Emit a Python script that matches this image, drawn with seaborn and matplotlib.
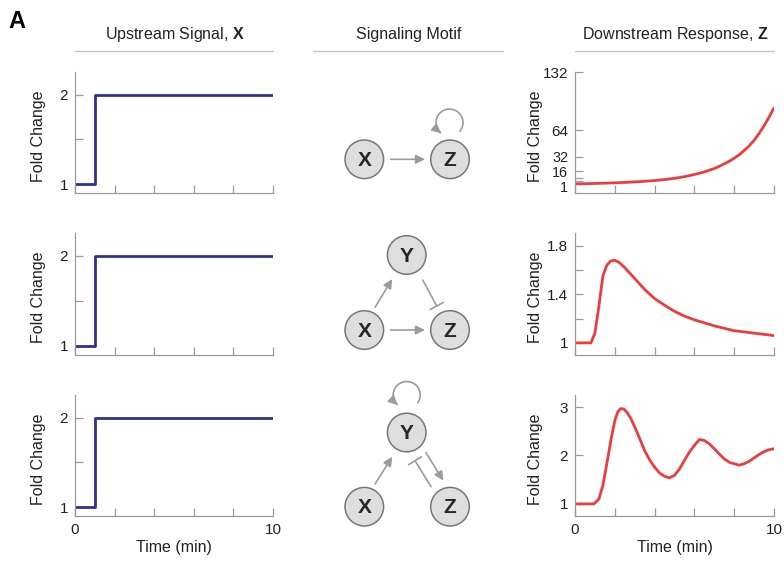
import numpy as np
import pandas as pd
import matplotlib
matplotlib.use("Agg")
import matplotlib.pyplot as plt
import matplotlib.patches as mpatches
import matplotlib.transforms as mtrans
from matplotlib.path import Path
import seaborn as sns

# ---------------- data ----------------
x_time = [0, 1, 1, 10]
x_signal = [1, 1, 2, 2]

t_exp = [0, 0.5, 1, 1.5, 2, 2.5, 3, 3.5, 4, 4.5, 5, 5.5, 6, 6.25, 6.5, 6.75, 7, 7.25, 7.5,
         7.75, 8, 8.25, 8.5, 8.75, 9, 9.25, 9.5, 9.75, 10]
z_exp = [1.0, 1.2, 1.45, 1.8, 2.2, 2.7, 3.3, 4.0, 4.9, 6.0, 7.5, 9.4, 12, 13.4, 15, 17, 19,
         21.5, 24.5, 27.5, 31, 35, 40, 45.5, 52, 60, 69, 79, 90]

t_iffl = [0, 0.5, 0.8, 1.0, 1.2, 1.4, 1.6, 1.8, 2.0, 2.2, 2.5, 3.0, 3.5, 4.0, 4.5, 5.0,
          5.5, 6.0, 6.5, 7.0, 7.5, 8.0, 8.5, 9.0, 9.5, 10]
z_iffl = [1.0, 1.0, 1.0, 1.08, 1.3, 1.55, 1.64, 1.675, 1.68, 1.665, 1.62, 1.53, 1.44, 1.365,
          1.31, 1.26, 1.22, 1.19, 1.165, 1.14, 1.12, 1.10, 1.09, 1.08, 1.07, 1.06]

t_osc = [0, 0.5, 0.95, 1.2, 1.4, 1.6, 1.8, 2.0, 2.15, 2.3, 2.45, 2.6, 2.8, 3.0, 3.25, 3.5,
         3.75, 4.0, 4.25, 4.5, 4.75, 5.0, 5.25, 5.5, 5.75, 6.0, 6.25, 6.5, 6.75, 7.0, 7.25,
         7.5, 7.75, 8.0, 8.25, 8.5, 8.75, 9.0, 9.25, 9.5, 9.75, 10]
z_osc = [1.0, 1.0, 1.0, 1.1, 1.38, 1.83, 2.31, 2.72, 2.9, 2.97, 2.96, 2.9, 2.77, 2.59, 2.35,
         2.1, 1.91, 1.76, 1.64, 1.57, 1.54, 1.59, 1.72, 1.9, 2.07, 2.21, 2.33, 2.31, 2.24,
         2.14, 2.03, 1.93, 1.86, 1.83, 1.80, 1.83, 1.88, 1.95, 2.02, 2.08, 2.12, 2.14]

x_ticks = [0, 2, 4, 6, 8, 10]
x_ticklabels = ["0", "", "", "", "", "10"]
left_yticks = [1, 1.5, 2]
left_yticklabels = ["1", "", "2"]
exp_yticks = [1, 4, 8, 16, 32, 64, 132]
exp_yticklabels = ["1", "", "", "16", "32", "64", "132"]
iffl_yticks = [1, 1.2, 1.4, 1.6, 1.8]
iffl_yticklabels = ["1", "", "1.4", "", "1.8"]
osc_yticks = [1, 2, 3]
osc_yticklabels = ["1", "2", "3"]

headers = ["Upstream Signal, $\\mathbf{X}$", "Signaling Motif", "Downstream Response, $\\mathbf{Z}$"]

# ---------------- style ----------------
sns.set_style("ticks")
plt.rcParams["font.family"] = ["Liberation Sans", "DejaVu Sans"]
plt.rcParams["mathtext.fontset"] = "custom"
plt.rcParams["mathtext.rm"] = "Liberation Sans"
plt.rcParams["mathtext.bf"] = "Liberation Sans:bold"

W, H = 784, 561
fig = plt.figure(figsize=(W / 100, H / 100), dpi=100)

SPINE = "#9a9a9a"
TXT = "#222222"
BLUE = "#2e3192"
RED = "#ee3b3b"


def add_ax(left, top, right, bottom):
    return fig.add_axes([left / W, 1 - bottom / H, (right - left) / W, (bottom - top) / H])


def style_ax(ax, yticks, yticklabels, ylim, bottom_row):
    sns.despine(ax=ax)
    for s in ["left", "bottom"]:
        ax.spines[s].set_color(SPINE)
        ax.spines[s].set_linewidth(0.9)
    ax.set_xlim(0, 10)
    ax.set_ylim(*ylim)
    ax.set_xticks(x_ticks)
    ax.set_yticks(yticks)
    ax.set_yticklabels(yticklabels)
    if bottom_row:
        ax.set_xticklabels(x_ticklabels)
        ax.set_xlabel("Time (min)", fontsize=11.5, color=TXT, labelpad=2)
    else:
        ax.set_xticklabels([""] * len(x_ticks))
        ax.set_xlabel("")
    ax.tick_params(direction="in", length=6, width=0.9, color=SPINE, labelsize=11,
                   labelcolor=TXT, pad=5)
    ax.set_ylabel("Fold Change", fontsize=11.5, color=TXT)
    ax.patch.set_alpha(0)


rows = [(72, 193), (233, 355), (395, 516)]

# left column: upstream signal
df_x = pd.DataFrame({"t": x_time, "v": x_signal})
for i, (top, bot) in enumerate(rows):
    ax = add_ax(75, top, 273, bot)
    sns.lineplot(data=df_x, x="t", y="v", ax=ax, color=BLUE, lw=2, estimator=None, sort=False)
    style_ax(ax, left_yticks, left_yticklabels, (0.9, 2.255), i == 2)
    ax.yaxis.set_label_coords(-0.148, 0.47)

# right column: downstream responses
resp = [
    (t_exp, z_exp, exp_yticks, exp_yticklabels, (-9.7, 132)),
    (t_iffl, z_iffl, iffl_yticks, iffl_yticklabels, (0.9, 1.905)),
    (t_osc, z_osc, osc_yticks, osc_yticklabels, (0.75, 3.25)),
]
for i, ((top, bot), (tt, zz, yt, ytl, yl)) in enumerate(zip(rows, resp)):
    ax = add_ax(575, top, 774, bot)
    df = pd.DataFrame({"t": tt, "v": zz})
    sns.lineplot(data=df, x="t", y="v", ax=ax, color=RED, lw=2, estimator=None, sort=False)
    style_ax(ax, yt, ytl, yl, i == 2)
    ax.yaxis.set_label_coords(-0.162, 0.47)
    if i == 0:
        # the crowded labels near the bottom sit slightly apart, as in the reference
        ticks = ax.yaxis.get_major_ticks()
        nudges_px = {0: -2.5, 4: 1.0}
        for k, dy in nudges_px.items():
            lab = ticks[k].label1
            lab.set_transform(lab.get_transform() +
                              mtrans.ScaledTranslation(0, dy / fig.dpi, fig.dpi_scale_trans))
        for k in (0, 3, 4):
            ticks[k].label1.set_fontsize(10.3)

# overlay in pixel coordinates for headers and motif diagrams
ov = fig.add_axes([0, 0, 1, 1])
ov.set_xlim(0, W)
ov.set_ylim(H, 0)
ov.axis("off")

ov.text(8, 21, "A", fontsize=17, fontweight="bold", ha="left", va="center", color="black")

header_spans = [(75, 273), (313, 503), (575, 774)]
for (a, b), htxt in zip(header_spans, headers):
    ov.plot([a, b], [50.5, 50.5], color="#c4c4c4", lw=1.0)
    ov.text((a + b) / 2 + 1, 34, htxt, fontsize=11.5, ha="center", va="center", color=TXT)

GRAY = "#9b9b9b"
R = 19.3


def node(x, y, label):
    ov.add_patch(mpatches.Circle((x, y), R, facecolor="#dedede", edgecolor="#777777", lw=1.1, zorder=3))
    ov.text(x, y + 1, label, fontsize=15, fontweight="bold", ha="center", va="center", zorder=4)


def arrow(p0, p1, inhibit=False):
    style = "-[,widthB=0.45,lengthB=0" if inhibit else "-|>,head_length=0.45,head_width=0.22"
    ov.add_patch(mpatches.FancyArrowPatch(p0, p1, arrowstyle=style, mutation_scale=12,
                                          color=GRAY, lw=1.2, shrinkA=0, shrinkB=0))


def loop(cx, cy, r, a0, a1):
    ang = np.radians(np.linspace(a0, a1, 80))
    verts = np.column_stack([cx + r * np.cos(ang), cy - r * np.sin(ang)])
    ov.add_patch(mpatches.FancyArrowPatch(path=Path(verts),
                                          arrowstyle="-|>,head_length=0.45,head_width=0.22",
                                          mutation_scale=12, color=GRAY, lw=1.2,
                                          shrinkA=0, shrinkB=0))


# motif 1: X -> Z with Z self-loop
node(364.3, 159.3, "X")
node(450, 159.3, "Z")
arrow((390.7, 159.3), (425, 159.3))
loop(449.5, 122.6, 13.5, -40, 232)

# motif 2: incoherent feed-forward
node(406.7, 255, "Y")
node(364.3, 330, "X")
node(450, 330, "Z")
arrow((375, 307.3), (392.3, 279))
arrow((422.7, 280), (436.7, 306), inhibit=True)
arrow((390.7, 330), (425, 330))

# motif 3: negative feedback
node(406.7, 432.5, "Y")
node(364.3, 506.7, "X")
node(450, 506.7, "Z")
arrow((375, 484), (392.3, 456.7))
arrow((426, 452.7), (443.3, 480.7))
arrow((431, 486.7), (415, 460.7), inhibit=True)
loop(406.7, 395, 13.5, -35, 228)

fig.savefig("out.png", dpi=100)
